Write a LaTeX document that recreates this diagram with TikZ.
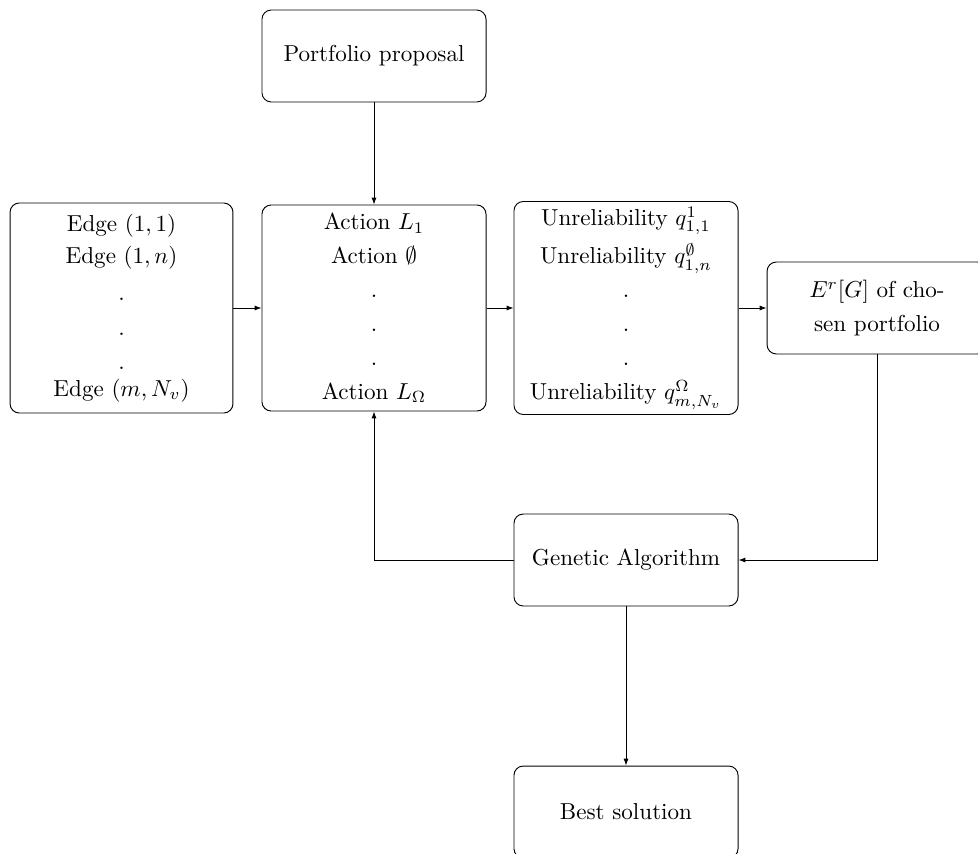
\documentclass[tikz,border=0pt]{standalone}
\usetikzlibrary{arrows.meta}
\tikzset{
  box/.style={draw, rounded corners=4pt, align=center, minimum width=97pt, minimum height=39.8pt, inner sep=0pt},
  arr/.style={-{Latex[length=3pt,width=2.2pt]}}
}
\begin{document}
\begin{tikzpicture}[x=0.4329pt, y=-0.4329pt]
\useasboundingbox (0,0) rectangle (978,854);
\clip (0,0) rectangle (978,854);
\node[box] (pp) at (374,56) {Portfolio proposal};
\node[box, minimum width=96.5pt, minimum height=90.9pt] (edge) at (121.5,308)
  {Edge $(1,1)$\\[1.9pt] Edge $(1,n)$\\[4pt] .\\[3.1pt] .\\[2.7pt] .\\[-0.3pt] Edge $(m,N_v)$};
\node[box, minimum height=89.2pt] (act) at (374,308)
  {Action $L_1$\\[2.7pt] Action $\emptyset$\\[2.7pt] .\\[2.7pt] .\\[2.7pt] .\\[2.7pt] Action $L_\Omega$};
\node[box, minimum height=92.2pt] (unr) at (626,308)
  {Unreliability $q^{1}_{1,1}$\\[2.7pt] Unreliability $q^{\emptyset}_{1,n}$\\[2.7pt] .\\[2.7pt] .\\[2.7pt] .\\[2.7pt] Unreliability $q^{\Omega}_{m,N_v}$};
\node[box, minimum width=95.2pt] (er) at (877,308) {$E^r[G]$ of cho-\\[2.7pt] sen portfolio};
\node[box] (ga) at (626,560) {Genetic Algorithm};
\node[box] (best) at (626,812) {Best solution};
\draw[arr] (pp) -- (act);
\draw[arr] (edge) -- (act);
\draw[arr] (act) -- (unr);
\draw[arr] (unr) -- (er);
\draw[arr] (er.south) |- (ga.east);
\draw[arr] (ga.west) -| (act.south);
\draw[arr] (ga) -- (best);
\end{tikzpicture}
\end{document}
